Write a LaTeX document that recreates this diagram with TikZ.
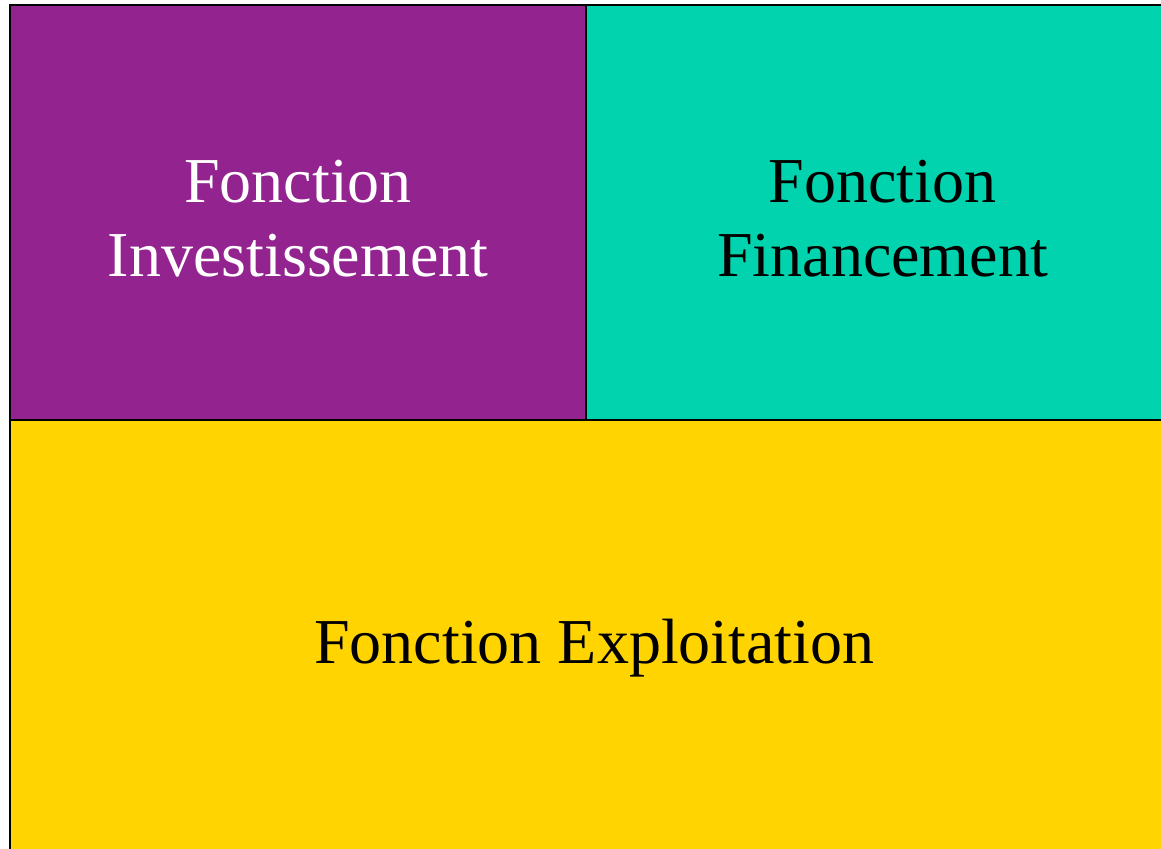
\documentclass[tikz,border=0pt]{standalone}
\usepackage{fontspec}
\setmainfont{Liberation Serif}
\usepackage{xcolor}
\usepackage{tikz}

\definecolor{violet}{RGB}{146,35,143}
\definecolor{turquoise}{RGB}{0,211,173}
\definecolor{jaune}{RGB}{255,212,0}

\begin{document}
\begin{tikzpicture}[x=0.01cm,y=-0.01cm,
		fonction/.style={draw=black, line width=0.5pt, rectangle, anchor=north west, inner sep=0pt, outer sep=0pt},
		texte/.style={align=center, inner sep=0pt, font=\fontsize{18.2}{21.3}\selectfont}]
			\useasboundingbox (0,0) rectangle (1161,849);
			
			\node[fonction, fill=violet, minimum width=5.76cm, minimum height=4.15cm] (invest) at (10,5) {};
			\node[fonction, fill=turquoise, minimum width=5.92cm, minimum height=4.15cm] (financ) at (invest.north east) {};
			\node[fonction, fill=jaune, minimum width=11.68cm, minimum height=4.42cm] (exploit) at (invest.south west) {};
			
			\node[texte, text=white] (tinvest) at ([yshift=-0.06cm]invest.center) {Fonction\\Investissement};
			\node[texte] (tfinanc) at ([yshift=-0.06cm]financ.center) {Fonction\\Financement};
			\node[texte] (texploit) at ([yshift=-0.07cm]exploit.center) {Fonction Exploitation};
		\end{tikzpicture}
\end{document}
